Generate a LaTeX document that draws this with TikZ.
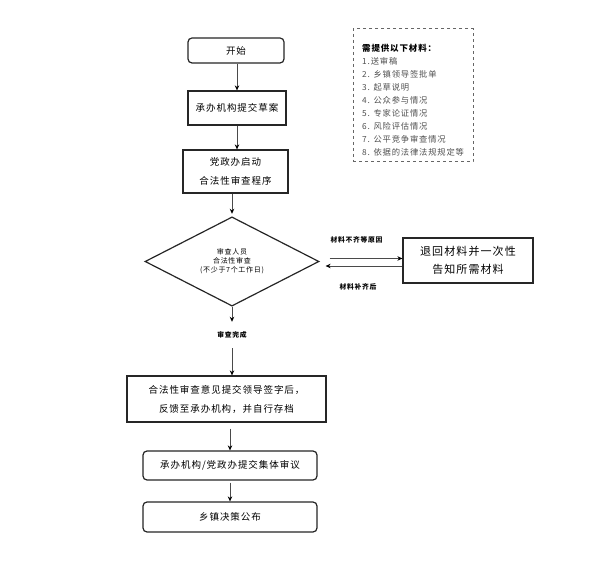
\documentclass[tikz,border=0pt]{standalone}
\usepackage{fontspec}
\setmainfont{Noto Sans CJK SC}
\newfontfamily\boxfont[LetterSpace=10]{Noto Sans CJK SC}
\usetikzlibrary{arrows.meta,shapes.geometric}
\definecolor{linegray}{HTML}{4A4A4A}
\definecolor{textgray}{HTML}{505050}
\tikzset{
  box/.style={draw=black!85, line width=1.2pt, inner sep=0pt, align=center,
    font={\boxfont\fontsize{9.5}{19}\selectfont}},
  rbox/.style={box, rounded corners=4pt},
  arr/.style={draw=linegray, line width=0.9pt, -{Stealth[length=5pt,width=4.5pt,color=black]}},
  smalllbl/.style={inner sep=0pt, font={\boxfont\bfseries\fontsize{6.8}{9}\selectfont}},
  itemtxt/.style={inner sep=0pt, anchor=base west, text=textgray,
    font={\boxfont\fontsize{8.3}{13}\selectfont}}
}
\begin{document}
\begin{tikzpicture}[x=1pt,y=-1pt]
\useasboundingbox[fill=white] (0,0) rectangle (590,569);

% main flow
\node[rbox, minimum width=96pt, minimum height=25pt] (start) at (236,50.5) {开始};
\node[box, minimum width=98pt, minimum height=34pt] (b2) at (237,108) {承办机构提交草案};
\node[box, minimum width=105pt, minimum height=43pt] (b3) at (235.5,171.5) {党政办启动\\合法性审查程序};
\node[draw=black!85, line width=1.2pt, diamond, inner sep=0pt, minimum width=174pt, minimum height=83pt,
      align=center, font={\boxfont\fontsize{7}{9}\selectfont}] (dia) at (232,261.5)
      {审查人员\\合法性审查\\(不少于7个工作日)};
\node[smalllbl, minimum height=26pt] (done) at (232,335) {审查完成};
\node[box, minimum width=199pt, minimum height=46pt] (b4) at (226.5,399) {合法性审查意见提交领导签字后，\\反馈至承办机构，并自行存档};
\node[rbox, minimum width=174pt, minimum height=29pt] (b5) at (230,465.5) {承办机构/党政办提交集体审议};
\node[rbox, minimum width=174pt, minimum height=30pt] (b6) at (230,517) {乡镇决策公布};

% return box
\node[box, minimum width=130pt, minimum height=45pt,
      font={\boxfont\fontsize{11}{18}\selectfont}] (ret) at (468,260.5) {退回材料并一次性\\告知所需材料};
\node[smalllbl] (why) at (356.5,240) {材料不齐等原因};
\node[smalllbl] (back) at (358,287) {材料补齐后};

% materials box
\node[draw=black!60, dashed, line width=1pt, minimum width=120pt, minimum height=133pt, inner sep=0pt] (mat) at (413,95.5) {};
\node[inner sep=0pt, anchor=base west, font={\boxfont\bfseries\fontsize{8.5}{13}\selectfont}] (mtitle) at (362,52) {需提供以下材料：};
\foreach \t [count=\i] in {1.送审稿, 2. 乡镇领导签批单, 3. 起草说明, 4. 公众参与情况, 5. 专家论证情况, 6. 风险评估情况, 7. 公平竞争审查情况, 8. 依据的法律法规规定等}
  \node[itemtxt] (m\i) at (362,52+13*\i) {\t};

% connectors
\draw[arr] (start.south -| b2.north) -- (b2.north);
\draw[arr] (b2.south) -- (b2.south |- b3.north);
\draw[arr, shorten >=2.5pt] (b3.south -| dia.north) -- (dia.north);
\draw[arr] (dia.south) -- (done.north);
\draw[arr] (done.south) -- (done.south |- b4.north);
\draw[arr, shorten <=6pt] (b4.south -| b5.north) -- (b5.north);
\draw[arr, shorten <=2pt] (b5.south) -- (b6.north);
\coordinate (u1) at ([xshift=10pt,yshift=3pt]dia.east);
\coordinate (l1) at ([xshift=6pt,yshift=-4.5pt]dia.east);
\draw[arr] (u1) -- (u1 -| ret.west);
\draw[arr] (l1 -| ret.west) -- (l1);
\end{tikzpicture}
\end{document}
